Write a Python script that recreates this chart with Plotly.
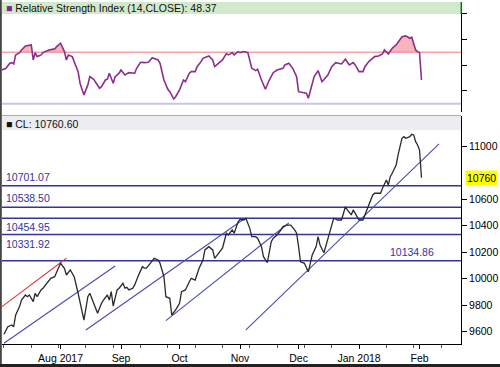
import plotly.graph_objects as go

# ---------------- data ----------------
price_dates = [
    "2017-07-03","2017-07-05","2017-07-07","2017-07-08","2017-07-09","2017-07-11","2017-07-12","2017-07-14",
    "2017-07-15","2017-07-16","2017-07-18","2017-07-19","2017-07-20","2017-07-22","2017-07-23","2017-07-25",
    "2017-07-27","2017-07-29","2017-07-30","2017-08-01","2017-08-03","2017-08-04","2017-08-06","2017-08-08",
    "2017-08-10","2017-08-13","2017-08-15","2017-08-16","2017-08-18","2017-08-20","2017-08-22","2017-08-23",
    "2017-08-25","2017-08-26","2017-08-27","2017-08-28","2017-08-30","2017-08-31","2017-09-02","2017-09-03",
    "2017-09-04","2017-09-05","2017-09-07","2017-09-08","2017-09-10","2017-09-12","2017-09-13","2017-09-14",
    "2017-09-16","2017-09-18","2017-09-20","2017-09-21","2017-09-23","2017-09-24","2017-09-26","2017-09-27",
    "2017-09-29","2017-10-01","2017-10-02","2017-10-04","2017-10-06","2017-10-07","2017-10-09","2017-10-11",
    "2017-10-13","2017-10-14","2017-10-16","2017-10-18","2017-10-19","2017-10-21","2017-10-23","2017-10-25",
    "2017-10-26","2017-10-28","2017-10-29","2017-10-31","2017-11-01","2017-11-03","2017-11-04","2017-11-06",
    "2017-11-07","2017-11-09","2017-11-10","2017-11-12","2017-11-13","2017-11-15","2017-11-16","2017-11-17",
    "2017-11-18","2017-11-20","2017-11-22","2017-11-23","2017-11-25","2017-11-27","2017-11-29","2017-11-30",
    "2017-12-01","2017-12-02","2017-12-04","2017-12-05","2017-12-06","2017-12-08","2017-12-10","2017-12-11",
    "2017-12-12","2017-12-14","2017-12-15","2017-12-17","2017-12-19","2017-12-21","2017-12-23","2017-12-24",
    "2017-12-25","2017-12-26","2017-12-28","2017-12-29","2017-12-31","2018-01-01","2018-01-03","2018-01-04",
    "2018-01-06","2018-01-08","2018-01-09","2018-01-12","2018-01-13","2018-01-15","2018-01-16","2018-01-17",
    "2018-01-18","2018-01-20","2018-01-21","2018-01-23","2018-01-24","2018-01-25","2018-01-27","2018-01-28",
    "2018-01-29","2018-01-30","2018-01-31","2018-02-01","2018-02-02",
]
price_values = [
    9580, 9637, 9650, 9637, 9725, 9788, 9838, 9876,
    9863, 9876, 9826, 9889, 9863, 9914, 9927, 9964,
    10002, 10014, 10052, 10115, 10078, 10027, 10065, 10014,
    9889, 9687, 9863, 9889, 9813, 9738, 9813, 9838,
    9876, 9838, 9901, 9793, 9914, 9927, 9964, 9927,
    9934, 9914, 9927, 9952, 10027, 10090, 10078, 10078,
    10115, 10153, 10140, 10115, 10014, 9863, 9851, 9725,
    9763, 9813, 9901, 9914, 9976, 10002, 9989, 10078,
    10140, 10216, 10241, 10216, 10153, 10191, 10229, 10342,
    10329, 10367, 10342, 10429, 10447, 10442, 10455, 10379,
    10316, 10316, 10304, 10241, 10165, 10120, 10216, 10278,
    10304, 10329, 10367, 10392, 10404, 10404, 10367, 10342,
    10241, 10127, 10115, 10085, 10050, 10178, 10241, 10316,
    10253, 10195, 10241, 10350, 10455, 10442, 10442, 10493,
    10542, 10518, 10480, 10518, 10467, 10442, 10442, 10480,
    10555, 10631, 10644, 10644, 10681, 10744, 10706, 10769,
    10795, 10857, 10933, 11059, 11071, 11059, 11071, 11089,
    11084, 11033, 11008, 10970, 10760.60,
]

rsi_dates = [
    "2017-07-02","2017-07-04","2017-07-06","2017-07-07","2017-07-08","2017-07-09","2017-07-11","2017-07-12",
    "2017-07-14","2017-07-16","2017-07-17","2017-07-18","2017-07-19","2017-07-20","2017-07-22","2017-07-23",
    "2017-07-26","2017-07-29","2017-07-30","2017-08-01","2017-08-03","2017-08-04","2017-08-05","2017-08-07",
    "2017-08-10","2017-08-11","2017-08-13","2017-08-15","2017-08-16","2017-08-18","2017-08-21","2017-08-22",
    "2017-08-24","2017-08-25","2017-08-26","2017-08-28","2017-08-29","2017-08-31","2017-09-01","2017-09-03",
    "2017-09-05","2017-09-08","2017-09-09","2017-09-11","2017-09-13","2017-09-15","2017-09-17","2017-09-20",
    "2017-09-21","2017-09-23","2017-09-25","2017-09-26","2017-09-28","2017-09-29","2017-10-01","2017-10-03",
    "2017-10-04","2017-10-06","2017-10-07","2017-10-09","2017-10-10","2017-10-12","2017-10-13","2017-10-16",
    "2017-10-18","2017-10-19","2017-10-21","2017-10-23","2017-10-25","2017-10-26","2017-10-27","2017-10-28",
    "2017-10-29","2017-10-31","2017-11-01","2017-11-03","2017-11-05","2017-11-06","2017-11-07","2017-11-09",
    "2017-11-10","2017-11-12","2017-11-13","2017-11-14","2017-11-16","2017-11-18","2017-11-20","2017-11-23",
    "2017-11-24","2017-11-26","2017-11-28","2017-11-30","2017-12-01","2017-12-04","2017-12-05","2017-12-06",
    "2017-12-08","2017-12-09","2017-12-11","2017-12-12","2017-12-13","2017-12-16","2017-12-18","2017-12-20",
    "2017-12-22","2017-12-23","2017-12-25","2017-12-27","2017-12-29","2017-12-30","2018-01-01","2018-01-03",
    "2018-01-04","2018-01-06","2018-01-09","2018-01-11","2018-01-13","2018-01-14","2018-01-16","2018-01-17",
    "2018-01-18","2018-01-20","2018-01-21","2018-01-23","2018-01-25","2018-01-27","2018-01-28","2018-01-29",
    "2018-01-30","2018-01-31","2018-02-01","2018-02-02",
]
rsi_values = [
    56.2, 57.5, 61.4, 61.9, 60.9, 67.9, 69.7, 71.8,
    74.9, 75.7, 75.7, 64.0, 69.7, 66.6, 67.9, 69.7,
    71.8, 72.6, 74.4, 77.0, 70.5, 64.0, 67.9, 66.6,
    54.9, 45.9, 36.8, 44.6, 51.0, 49.0, 42.0, 43.2,
    48.4, 49.0, 53.7, 45.9, 51.0, 53.7, 56.2, 52.3,
    54.1, 53.7, 57.5, 62.2, 61.9, 62.2, 65.8, 64.0,
    61.4, 48.4, 41.2, 39.3, 33.7, 35.4, 40.7, 48.4,
    47.1, 53.7, 54.9, 54.9, 58.8, 62.7, 65.3, 67.1,
    64.0, 58.8, 61.4, 64.0, 68.9, 67.9, 68.7, 69.7,
    67.9, 70.5, 69.7, 70.5, 69.7, 62.7, 57.5, 55.7,
    56.8, 48.4, 44.6, 41.2, 48.4, 54.1, 56.2, 57.5,
    60.1, 61.4, 57.5, 51.0, 39.3, 38.6, 38.1, 34.2,
    45.9, 51.0, 55.7, 51.0, 47.1, 52.3, 58.8, 61.9,
    60.9, 60.9, 64.6, 60.1, 61.9, 60.1, 54.9, 54.9,
    58.8, 62.7, 66.6, 67.1, 68.7, 71.8, 68.7, 71.2,
    73.1, 75.7, 78.2, 82.1, 82.7, 80.9, 81.7, 75.7,
    71.8, 70.5, 69.7, 48.37,
]
rsi_upper_level = 70
rsi_lower_level = 30

support_levels = [10701.07, 10538.50, 10454.95, 10331.92, 10134.86]
support_labels = ["10701.07", "10538.50", "10454.95", "10331.92", "10134.86"]

trend_red_dates = ["2017-07-02", "2017-08-04"]
trend_red_values = [9788, 10153]
trend_blue = [
    (["2017-07-03", "2017-08-29"], [9512, 10095]),
    (["2017-08-14", "2017-11-03"], [9612, 10450]),
    (["2017-09-24", "2017-11-26"], [9682, 10419]),
    (["2017-11-04", "2018-02-11"], [9612, 11016]),
]

month_ticks = ["2017-08-01", "2017-09-01", "2017-10-01", "2017-11-01", "2017-12-01", "2018-01-01", "2018-02-01"]
month_labels = ["Aug 2017", "Sep", "Oct", "Nov", "Dec", "Jan 2018", "Feb"]
price_ticks = [9600, 9800, 10000, 10200, 10400, 10600, 11000]
rsi_ticks = [40, 60, 80, 100]

last_close = 10760.60
rsi_last = 48.37

# ---------------- figure ----------------
FONT = "Liberation Sans, Arial, sans-serif"
NAVY = "#34349c"
TREND = "#4a4ab4"
RSI_COL = "#8c2e8e"

fig = go.Figure()

rsi_clip = [max(v, rsi_upper_level) for v in rsi_values]
fig.add_trace(go.Scatter(x=rsi_dates, y=[rsi_upper_level] * len(rsi_dates), mode="lines",
                         line=dict(width=0), xaxis="x", yaxis="y", hoverinfo="skip", showlegend=False))
fig.add_trace(go.Scatter(x=rsi_dates, y=rsi_clip, mode="lines", fill="tonexty",
                         fillcolor="rgba(238,120,130,0.55)", line=dict(width=0),
                         xaxis="x", yaxis="y", hoverinfo="skip", showlegend=False))
fig.add_trace(go.Scatter(x=rsi_dates, y=rsi_values, mode="lines", line=dict(color=RSI_COL, width=1.6),
                         xaxis="x", yaxis="y", showlegend=False))

fig.add_trace(go.Scatter(x=trend_red_dates, y=trend_red_values, mode="lines",
                         line=dict(color="#e23a3a", width=1.1), xaxis="x2", yaxis="y2", showlegend=False))
for d, v in trend_blue:
    fig.add_trace(go.Scatter(x=d, y=v, mode="lines", line=dict(color=TREND, width=1.1),
                             xaxis="x2", yaxis="y2", showlegend=False))

fig.add_trace(go.Scatter(x=price_dates, y=price_values, mode="lines",
                         line=dict(color="#2a2a2a", width=1.3), xaxis="x2", yaxis="y2", showlegend=False))

shapes = []
for lv in support_levels:
    shapes.append(dict(type="line", xref="paper", x0=0, x1=1, yref="y2", y0=lv, y1=lv,
                       line=dict(color=NAVY, width=1.5), layer="below"))
shapes.append(dict(type="line", xref="paper", x0=0, x1=1, yref="y", y0=rsi_upper_level, y1=rsi_upper_level,
                   line=dict(color="#f4a6a6", width=1.5), layer="below"))
shapes.append(dict(type="line", xref="paper", x0=0, x1=1, yref="y", y0=rsi_lower_level, y1=rsi_lower_level,
                   line=dict(color="#c9c4e2", width=2), layer="below"))

H = 342.0
def py(pix):
    return (344 - pix) / H

shapes.append(dict(type="rect", xref="paper", yref="paper", x0=0, x1=1, y0=py(14), y1=py(2),
                   fillcolor="#d2eacb", line=dict(width=0)))
shapes.append(dict(type="line", xref="paper", yref="paper", x0=1, x1=1, y0=py(14), y1=py(2),
                   line=dict(color="#3a9a3a", width=1.2)))
shapes.append(dict(type="rect", xref="paper", yref="paper", x0=0, x1=1, y0=py(130), y1=py(117),
                   fillcolor="#ececf3", line=dict(width=0)))
shapes.append(dict(type="line", xref="paper", yref="paper", x0=0, x1=1, y0=py(115.7), y1=py(115.7),
                   line=dict(color="#9a9a9a", width=1)))
shapes.append(dict(type="line", xref="paper", yref="paper", x0=-1.2 / 459, x1=-1.2 / 459,
                   y0=py(367), y1=py(0), line=dict(color="#444444", width=2)))
shapes.append(dict(type="line", xref="paper", yref="paper", x0=-2 / 459, x1=498 / 459,
                   y0=py(365.5), y1=py(365.5), line=dict(color="#222222", width=3)))

annotations = []
annotations.append(dict(xref="paper", yref="paper", x=0.004, y=py(8), xanchor="left", yanchor="middle",
                        text="<span style='color:#7b2a8c'>■</span> Relative Strength Index (14,CLOSE): %.2f" % rsi_last,
                        showarrow=False, font=dict(family=FONT, size=10.5, color="#111")))
annotations.append(dict(xref="paper", yref="paper", x=0.004, y=py(123.5), xanchor="left", yanchor="middle",
                        text="■ CL: %.2f" % last_close,
                        showarrow=False, font=dict(family=FONT, size=10.5, color="#111")))

label_pos = [("above", "left"), ("above", "left"), ("below", "left"), ("below", "left"), ("above", "right")]
for lv, txt, (vpos, hpos) in zip(support_levels, support_labels, label_pos):
    annotations.append(dict(
        xref="paper", yref="y2", x=0.004 if hpos == "left" else 0.945, y=lv,
        xanchor="left" if hpos == "left" else "right",
        yanchor="bottom" if vpos == "above" else "top",
        yshift=1 if vpos == "above" else -1,
        text=txt, showarrow=False, font=dict(family=FONT, size=10.5, color=NAVY)))

annotations.append(dict(xref="paper", yref="y2", x=1, xshift=4, y=last_close, xanchor="left", yanchor="middle",
                        text="%d" % int(last_close), showarrow=False, bgcolor="#ffff00", borderpad=1,
                        font=dict(family=FONT, size=10.5, color="#000")))

x_range = ["2017-07-02", "2018-02-22 06:00"]

fig.update_layout(
    width=500, height=367,
    margin=dict(l=2, r=39, t=2, b=23),
    paper_bgcolor="white", plot_bgcolor="white",
    font=dict(family=FONT, size=10, color="#000"),
    showlegend=False,
    shapes=shapes,
    annotations=annotations,
    xaxis=dict(domain=[0, 1], anchor="y", range=x_range, type="date", showticklabels=False,
               showgrid=False, zeroline=False, ticks="", showline=False, matches="x2"),
    yaxis=dict(domain=[py(112), 1], anchor="x", range=[23.5, 109.1], side="right",
               tickvals=rsi_ticks, showticklabels=False, ticks="outside", ticklen=5, tickcolor="#000",
               showgrid=False, zeroline=False, showline=True, linecolor="#000", linewidth=1),
    xaxis2=dict(domain=[0, 1], anchor="y2", range=x_range, type="date",
                tickvals=month_ticks, ticktext=month_labels, ticks="outside", ticklen=4, tickcolor="#000",
                showgrid=False, zeroline=False, showline=True, linecolor="#000", linewidth=1,
                tickfont=dict(family=FONT, size=10.5, color="#000"),
                minor=dict(ticks="outside", ticklen=3, tickcolor="#555", dtick=14 * 86400000,
                           tick0="2017-07-03", showgrid=False)),
    yaxis2=dict(domain=[0, py(116)], anchor="x2", range=[9506, 11227], side="right",
                tickvals=price_ticks, ticks="outside", ticklen=5, tickcolor="#000",
                tickformat="d",
                tickfont=dict(family=FONT, size=10.5, color="#000"),
                showgrid=False, zeroline=False, showline=True, linecolor="#000", linewidth=1),
)

fig.write_html("out.html", config={"displayModeBar": False},
               post_script="document.body.style.margin='0';document.body.style.padding='0';")
